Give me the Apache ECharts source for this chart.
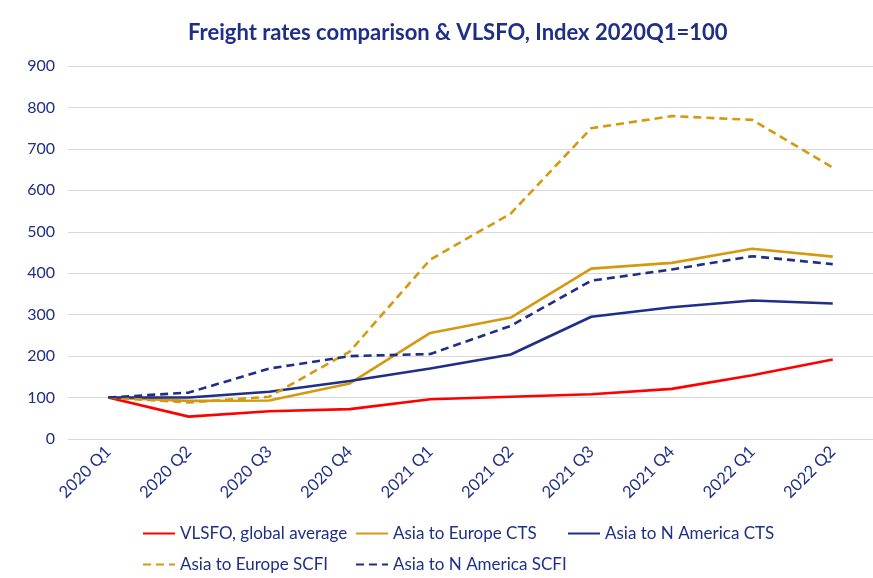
<!DOCTYPE html>
<html>
<head>
<meta charset="utf-8">
<script src="https://cdn.jsdelivr.net/npm/echarts@6/dist/echarts.min.js"></script>
<style>
  html, body { margin: 0; padding: 0; background: #fff; }
  #main { width: 873px; height: 578px; }
</style>
</head>
<body>
<div id="main"></div>
<script>
// data
var quarters = ['2020 Q1', '2020 Q2', '2020 Q3', '2020 Q4', '2021 Q1', '2021 Q2', '2021 Q3', '2021 Q4', '2022 Q1', '2022 Q2']
var vlsfo = [100, 54, 67, 72, 96, 102, 108, 121, 154, 192]
var euCts = [100, 92, 93, 134, 256, 293, 411, 425, 459, 440]
var naCts = [100, 100, 114, 140, 170, 204, 295, 318, 334, 327]
var euScfi = [100, 88, 102, 211, 433, 544, 750, 779, 770, 655]
var naScfi = [100, 112, 170, 200, 205, 273, 382, 409, 441, 422]
var yTicks = [0, 100, 200, 300, 400, 500, 600, 700, 800, 900]

var navy = '#1f2e87'
var gold = '#d4990f'
var red = '#ff0000'
var font = 'Lato, "Open Sans", sans-serif'

;(function () {
  var myChart = echarts.init(document.getElementById('main'))

  function mkLegend(name, left, top) {
    return {
      data: [name],
      left: left,
      top: top,
      itemWidth: 32,
      itemHeight: 12,
      itemGap: 4,
      itemStyle: { opacity: 0 },
      textStyle: { color: navy, fontSize: 17, fontFamily: font }
    }
  }

  function mkSeries(name, data, color, dashed) {
    return {
      name: name,
      type: 'line',
      data: data,
      symbol: 'none',
      smooth: false,
      color: color,
      lineStyle: {
        width: 2.6,
        color: color,
        type: dashed ? [8, 5] : 'solid'
      }
    }
  }

  var option = {
    backgroundColor: '#fff',
    animation: false,
    title: {
      text: 'Freight rates comparison & VLSFO, Index 2020Q1=100',
      left: 183,
      top: 17,
      textStyle: { color: navy, fontSize: 22, fontWeight: 'bold', fontFamily: font }
    },
    legend: [
      mkLegend('VLSFO, global average', 137, 520),
      mkLegend('Asia to Europe CTS', 350, 520),
      mkLegend('Asia to N America CTS', 562, 520),
      mkLegend('Asia to Europe SCFI', 137, 551),
      mkLegend('Asia to N America SCFI', 350, 551)
    ],
    grid: {
      left: 68,
      top: 66,
      width: 812,
      height: 373,
      containLabel: false
    },
    xAxis: {
      type: 'category',
      data: quarters,
      boundaryGap: true,
      axisLine: { show: true, lineStyle: { color: '#d9d9d9', width: 1 } },
      axisTick: { show: false },
      axisLabel: {
        rotate: 45,
        margin: 10,
        interval: 0,
        color: navy,
        fontSize: 16.5,
        fontFamily: font
      }
    },
    yAxis: {
      type: 'value',
      min: yTicks[0],
      max: yTicks[yTicks.length - 1],
      interval: 100,
      axisLine: { show: false },
      axisTick: { show: false },
      axisLabel: { color: navy, fontSize: 16, fontFamily: font, margin: 13 },
      splitLine: { lineStyle: { color: '#d9d9d9', width: 1 } }
    },
    series: [
      mkSeries('VLSFO, global average', vlsfo, red, false),
      mkSeries('Asia to Europe CTS', euCts, gold, false),
      mkSeries('Asia to N America CTS', naCts, navy, false),
      mkSeries('Asia to Europe SCFI', euScfi, gold, true),
      mkSeries('Asia to N America SCFI', naScfi, navy, true)
    ]
  }

  myChart.setOption(option)

  window.addEventListener('resize', function () {
    myChart.resize()
  })
})();
</script>
</body>
</html>
